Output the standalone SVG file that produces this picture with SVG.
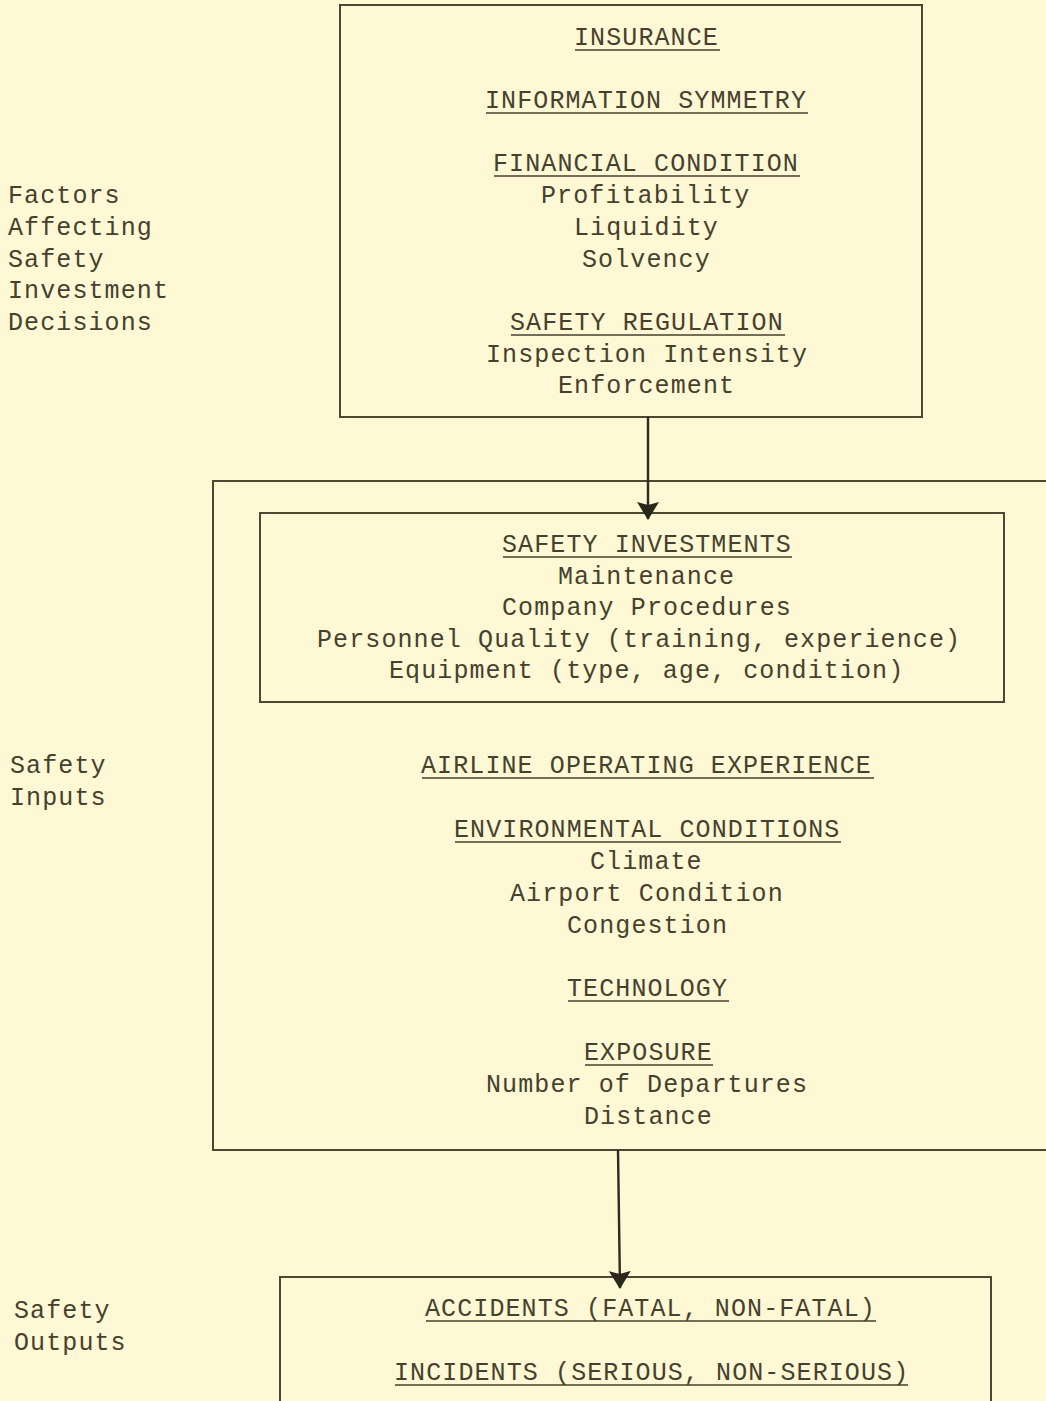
<svg xmlns="http://www.w3.org/2000/svg" width="1046" height="1401" viewBox="0 0 1046 1401">
<style>
.t{font-family:"Liberation Mono","DejaVu Sans Mono",monospace;font-size:25px;letter-spacing:1.1px;fill:#45412f}
.box{fill:none;stroke:#4a4733;stroke-width:2}
.ul{stroke:#45412f;stroke-width:1.6}
.conn{stroke:#2e2b20;stroke-width:2.4;fill:none}
</style>
<defs>
<marker id="ah" viewBox="0 0 18 22" refX="17" refY="11" markerWidth="18" markerHeight="22" markerUnits="userSpaceOnUse" orient="auto">
<path d="M0,0 L18,11 L0,22 L3,11 Z" fill="#2a271c"/>
</marker>
</defs>
<rect width="1046" height="1401" fill="#FEF8D4"/>

<g id="label-factors">
<text class="t" x="8" y="203">Factors</text>
<text class="t" x="8" y="235">Affecting</text>
<text class="t" x="8" y="267">Safety</text>
<text class="t" x="8" y="298">Investment</text>
<text class="t" x="8" y="330">Decisions</text>
</g>
<g id="label-inputs">
<text class="t" x="10" y="773">Safety</text>
<text class="t" x="10" y="805">Inputs</text>
</g>
<g id="label-outputs">
<text class="t" x="14" y="1318">Safety</text>
<text class="t" x="14" y="1350">Outputs</text>
</g>

<g id="factors-box">
<rect class="box" x="340" y="5" width="582" height="412"/>
<text class="t" x="574" y="45">INSURANCE</text>
<line class="ul" x1="575" y1="50" x2="720" y2="50"/>
<text class="t" x="485" y="108">INFORMATION SYMMETRY</text>
<line class="ul" x1="486" y1="113" x2="808" y2="113"/>
<text class="t" x="493" y="171">FINANCIAL CONDITION</text>
<line class="ul" x1="494" y1="176" x2="800" y2="176"/>
<text class="t" x="541" y="203">Profitability</text>
<text class="t" x="574" y="235">Liquidity</text>
<text class="t" x="582" y="267">Solvency</text>
<text class="t" x="510" y="330">SAFETY REGULATION</text>
<line class="ul" x1="511" y1="335" x2="785" y2="335"/>
<text class="t" x="486" y="362">Inspection Intensity</text>
<text class="t" x="558" y="393">Enforcement</text>
</g>

<g id="inputs-box">
<path class="box" d="M1046,481 L213,481 L213,1150 L1046,1150"/>
<text class="t" x="421" y="773">AIRLINE OPERATING EXPERIENCE</text>
<line class="ul" x1="422" y1="778" x2="874" y2="778"/>
<text class="t" x="454" y="837">ENVIRONMENTAL CONDITIONS</text>
<line class="ul" x1="455" y1="842" x2="841" y2="842"/>
<text class="t" x="590" y="869">Climate</text>
<text class="t" x="510" y="901">Airport Condition</text>
<text class="t" x="567" y="933">Congestion</text>
<text class="t" x="567" y="996">TECHNOLOGY</text>
<line class="ul" x1="568" y1="1001" x2="729" y2="1001"/>
<text class="t" x="584" y="1060">EXPOSURE</text>
<line class="ul" x1="585" y1="1065" x2="713" y2="1065"/>
<text class="t" x="486" y="1092">Number of Departures</text>
<text class="t" x="584" y="1124">Distance</text>
</g>

<g id="investments-box">
<rect class="box" x="260" y="513" width="744" height="189"/>
<text class="t" x="502" y="552">SAFETY INVESTMENTS</text>
<line class="ul" x1="503" y1="557" x2="792" y2="557"/>
<text class="t" x="558" y="584">Maintenance</text>
<text class="t" x="502" y="615">Company Procedures</text>
<text class="t" x="317" y="647">Personnel Quality (training, experience)</text>
<text class="t" x="389" y="678">Equipment (type, age, condition)</text>
</g>

<g id="outputs-box">
<path class="box" d="M280,1401 L280,1277 L991,1277 L991,1401"/>
<text class="t" x="425" y="1316">ACCIDENTS (FATAL, NON-FATAL)</text>
<line class="ul" x1="426" y1="1321" x2="876" y2="1321"/>
<text class="t" x="394" y="1380">INCIDENTS (SERIOUS, NON-SERIOUS)</text>
<line class="ul" x1="395" y1="1385" x2="908" y2="1385"/>
</g>

<g id="connectors">
<line class="conn" x1="648" y1="417" x2="648" y2="519" marker-end="url(#ah)"/>
<line class="conn" x1="618" y1="1150" x2="620" y2="1288" marker-end="url(#ah)"/>
</g>
</svg>
